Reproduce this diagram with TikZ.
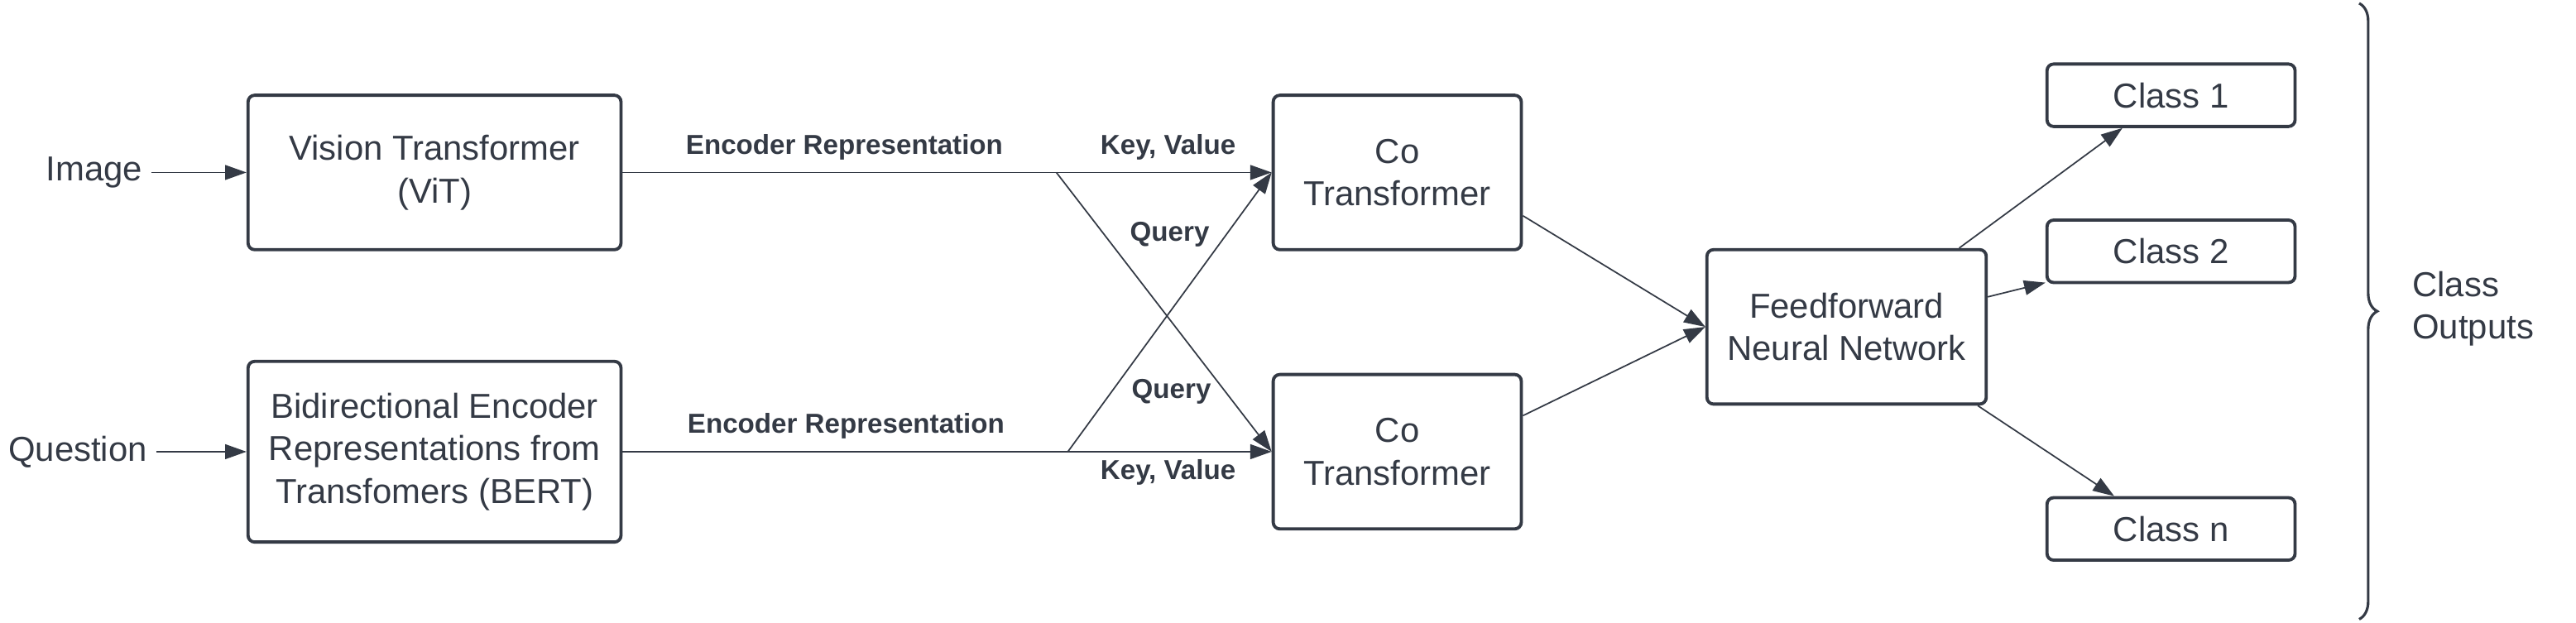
\documentclass[tikz,border=0pt]{standalone}
\usepackage{fontspec}
\setmainfont{Liberation Sans}
\usepackage{tikz}
\usetikzlibrary{arrows.meta,positioning,decorations.pathreplacing}
\definecolor{ink}{RGB}{52,58,69}

\begin{document}
\begin{tikzpicture}[x=0.2mm,y=-0.2mm,->,>={Triangle[length=2.6mm,width=1.8mm]},
  color=ink,line width=0.5pt,node distance=11mm,
  box/.style={draw,rounded corners=0.8mm,line width=1.1pt,align=center,inner sep=0pt,
    font=\fontsize{12}{14.8}\selectfont},
  cls/.style={box,minimum width=30.2mm,minimum height=7.6mm},
  lbl/.style={font=\fontsize{9.5}{11}\selectfont\bfseries},
  txt/.style={font=\fontsize{12}{14.8}\selectfont,align=left,inner sep=1mm}]
    \useasboundingbox (0,0) rectangle (1568,379);
    \node[box,minimum width=45.4mm,minimum height=18.8mm](vit) at (264.5,105)
      {Vision Transformer\\(ViT)};
    \node[box,minimum width=45.4mm,minimum height=22mm](bert) at (264.5,275)
      {Bidirectional Encoder\\Representations from\\Transfomers (BERT)};
    \node[txt,left=11.6mm of vit](img){Image};
    \node[txt,left=of bert](qst){Question};
    \node[box,minimum width=30.2mm,minimum height=18.8mm](co1) at (850.5,105) {Co\\Transformer};
    \node[box,minimum width=30.2mm,minimum height=18.8mm](co2) at (850.5,275) {Co\\Transformer};
    \node[box,minimum width=34mm,minimum height=18.8mm](ffn) at (1124,199)
      {Feedforward\\Neural Network};
    \node[cls](c1) at (1321.5,58) {Class 1};
    \node[cls](c2) at (1321.5,153) {Class 2};
    \node[cls](cn) at (1321.5,322) {Class n};
    \node[txt,anchor=west](outs) at (1463,188) {Class\\Outputs};
    \node[lbl](enc1) at (514,89.5) {Encoder Representation};
    \node[lbl](enc2) at (515,259.5) {Encoder Representation};
    \node[lbl](kv1) at (711,89.5) {Key, Value};
    \node[lbl](kv2) at (711,287.5) {Key, Value};
    \node[lbl](q1) at (712,142.5) {Query};
    \node[lbl](q2) at (713,238.5) {Query};
    \coordinate (x1) at (643,105);
    \coordinate (x2) at (650,275);
    \path (img) edge (vit)
          (qst) edge (bert)
          (vit) edge (co1)
          (bert) edge (co2)
          (x1) edge (co2.west)
          (x2) edge (co1.west)
          (co1.-19) edge (ffn.west)
          (co2.16) edge (ffn.west)
          (ffn.35.5) edge (c1.-146)
          (ffn.12.6) edge (c2.-166.6)
          (ffn.-31.7) edge (cn.150)
    ;
    \draw[-,decorate,decoration={brace,amplitude=2.2mm},line width=0.9pt]
      (1436,2) -- (1436,377);

\end{tikzpicture}
\end{document}
